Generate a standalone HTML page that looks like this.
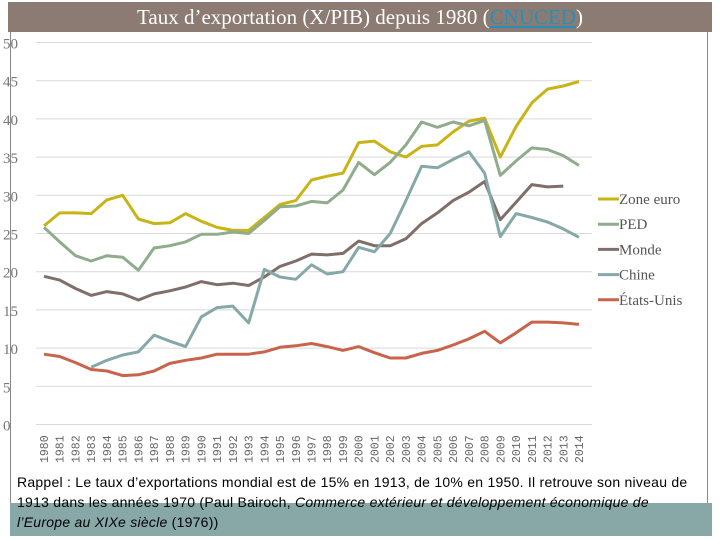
<!DOCTYPE html>
<html><head><meta charset="utf-8"><style>
body{margin:0;width:720px;height:540px;overflow:hidden;background:#fff;font-family:"Liberation Serif",serif}
#title{position:absolute;left:8px;top:2px;width:704px;height:30px;background:#8b7b72;color:#fff;font-size:21px;text-align:center;line-height:30px}
#title a{color:#2a8fb8;text-decoration:underline}
#frame{position:absolute;left:10px;top:32px;width:698px;height:503px;border:1px solid #888;border-top:none;box-sizing:border-box}
#note-bg{position:absolute;left:10px;top:503px;width:702px;height:33px;background:#88a8a8}
#note{position:absolute;left:17px;top:472px;width:700px;font-family:"Liberation Sans",sans-serif;font-size:14px;letter-spacing:0.25px;line-height:20px;color:#000;white-space:nowrap}
svg{position:absolute;left:0;top:0}
</style></head><body>
<div id="title">Taux d’exportation (X/PIB) depuis 1980 (<a>CNUCED</a>)</div>
<div id="frame"></div>
<div id="note-bg"></div>
<div id="note">Rappel : Le taux d’exportations mondial est de 15% en 1913, de 10% en 1950. Il retrouve son niveau de<br>1913 dans les années 1970 (Paul Bairoch, <i>Commerce extérieur et développement économique de</i><br><i>l’Europe au XIXe siècle</i> (1976))</div>
<svg id="chart" width="720" height="540"></svg>
<script>
const years=[];for(let y=1980;y<=2014;y++)years.push(y);
const yTicks=[0,5,10,15,20,25,30,35,40,45,50];
const seriesNames=["Zone euro","PED","Monde","Chine","États-Unis"];
const zoneEuro=[26.0,27.7,27.7,27.6,29.4,30.0,26.9,26.3,26.4,27.6,26.6,25.8,25.4,25.4,27.1,28.8,29.3,32.0,32.5,32.9,36.9,37.1,35.7,35.0,36.4,36.6,38.3,39.7,40.1,35.0,39.0,42.1,43.9,44.3,44.9];
const ped=[25.8,23.9,22.1,21.4,22.1,21.9,20.2,23.1,23.4,23.9,24.9,24.9,25.2,25.0,26.7,28.5,28.6,29.2,29.0,30.7,34.3,32.7,34.3,36.6,39.6,38.9,39.6,39.1,39.8,32.6,34.5,36.2,36.0,35.2,33.9];
const monde=[19.4,18.9,17.8,16.9,17.4,17.1,16.3,17.1,17.5,18.0,18.7,18.3,18.5,18.2,19.3,20.7,21.4,22.3,22.2,22.4,24.0,23.4,23.4,24.3,26.3,27.7,29.3,30.4,31.8,26.8,29.1,31.4,31.1,31.2,null];
const chine=[null,null,null,7.5,8.4,9.1,9.5,11.7,10.9,10.2,14.1,15.3,15.5,13.3,20.3,19.3,19.0,20.9,19.7,20.0,23.2,22.6,25.0,29.3,33.8,33.6,34.7,35.7,32.9,24.6,27.6,27.1,26.5,25.6,24.5];
const usa=[9.2,8.9,8.1,7.2,7.0,6.4,6.5,7.0,8.0,8.4,8.7,9.2,9.2,9.2,9.5,10.1,10.3,10.6,10.2,9.7,10.2,9.4,8.7,8.7,9.3,9.7,10.4,11.2,12.2,10.7,12.0,13.4,13.4,13.3,13.1];
const seriesData=[zoneEuro,ped,monde,chine,usa];
const colors=["#c8b417","#8fac8c","#7f6f68","#86a8a8","#c8644a"];
const NS="http://www.w3.org/2000/svg",svg=document.getElementById('chart');
const xs=i=>44+i*(535/(years.length-1));
const ys=v=>424.5-v*7.64;
function mk(t,a,p){const e=document.createElementNS(NS,t);for(const k in a)e.setAttribute(k,a[k]);(p||svg).appendChild(e);return e;}
yTicks.forEach(v=>{
 const g=mk('line',{x1:36,x2:592,y1:ys(v),y2:ys(v),stroke:'#d9d9d9','stroke-width':1});
 
 
 const t=mk('text',{x:3,y:ys(v)+6,'font-size':15,fill:'#777','font-family':'Liberation Serif, serif'});
 t.textContent=v;
 
 
});
years.forEach((y,i)=>{
 const t=mk('text',{transform:`translate(${xs(i)+4},463) rotate(-90)`,'font-size':11.5,fill:'#666','font-family':'Liberation Mono, monospace'});
 t.textContent=y;
 
 
});
seriesData.forEach((d,s)=>{
 let path='',pen=false;
 d.forEach((v,i)=>{if(v==null){pen=false;return;}path+=(pen?'L':'M')+xs(i).toFixed(1)+','+ys(v).toFixed(1);pen=true;});
 const p=mk('path',{d:path,fill:'none',stroke:colors[s],'stroke-width':3,'stroke-linejoin':'round'});
 
 
 const ly=199+s*25.2;
 const g=mk('g',{});
 
 
 mk('line',{x1:598,x2:619,y1:ly,y2:ly,stroke:colors[s],'stroke-width':3},g);
 const t=mk('text',{x:619,y:ly+5,'font-size':15,fill:'#555','font-family':'Liberation Serif, serif'},g);
 t.textContent=seriesNames[s];
});
</script>
</body></html>
